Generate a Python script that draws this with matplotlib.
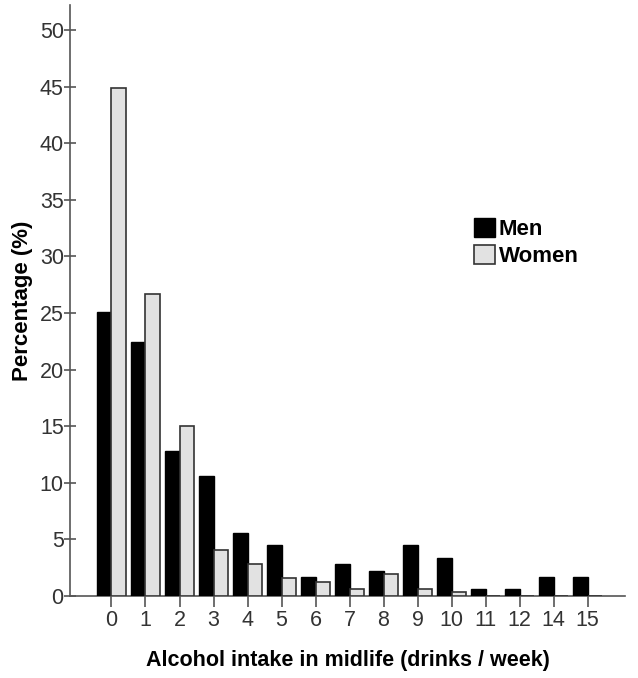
import matplotlib
matplotlib.use("Agg")
import matplotlib.pyplot as plt
import numpy as np

categories = ["0", "1", "2", "3", "4", "5", "6", "7", "8", "9", "10", "11", "12", "14", "15"]
men = [25.1, 22.4, 12.8, 10.6, 5.6, 4.5, 1.7, 2.8, 2.2, 4.5, 3.35, 0.6, 0.6, 1.7, 1.7]
women = [44.9, 26.7, 15.0, 4.1, 2.85, 1.6, 1.2, 0.6, 1.9, 0.6, 0.35, 0.0, 0.0, 0.0, 0.0]
yticks = [0, 5, 10, 15, 20, 25, 30, 35, 40, 45, 50]

plt.rcParams['font.family'] = ['Liberation Sans', 'DejaVu Sans']

fig = plt.figure(figsize=(6.38, 6.78), dpi=100)
ax = fig.add_axes([70/638, 82/678, 555/638, 591/678])

x = np.arange(len(categories))
w = 0.43
ax.bar(x - w/2, men, width=w, color='black', edgecolor='black', linewidth=1.0, label='Men', zorder=3)
ax.bar(x + w/2, women, width=w, color='#e2e2e2', edgecolor='#333333', linewidth=1.2, label='Women', zorder=3)

ax.set_xlim(-1.22, 15.1)
ax.set_ylim(0, 52.2)
ax.set_xticks(x)
ax.set_xticklabels(categories)
ax.set_yticks(yticks)

for s in ['top', 'right']:
    ax.spines[s].set_visible(False)
for s in ['left', 'bottom']:
    ax.spines[s].set_color('#555555')
    ax.spines[s].set_linewidth(1.2)

ax.tick_params(axis='y', direction='inout', length=9, width=1.2, color='#555555',
               labelsize=15.5, labelcolor='#333333', pad=0)
ax.tick_params(axis='x', direction='out', length=8, width=1.2, color='#555555',
               labelsize=15.5, labelcolor='#333333', pad=2)

ax.set_ylabel('Percentage (%)', fontsize=16, fontweight='bold', labelpad=5)
ax.set_xlabel('Alcohol intake in midlife (drinks / week)', fontsize=15.5, fontweight='bold', labelpad=14)

leg = fig.legend(loc='upper left', bbox_to_anchor=(463/638, 1 - 207/678), frameon=False,
                 prop={'size': 16, 'weight': 'bold'}, handlelength=0.95, handleheight=0.95,
                 handletextpad=0.15, labelspacing=0.2, borderpad=0)

fig.savefig('out.png', dpi=100, facecolor='white')
